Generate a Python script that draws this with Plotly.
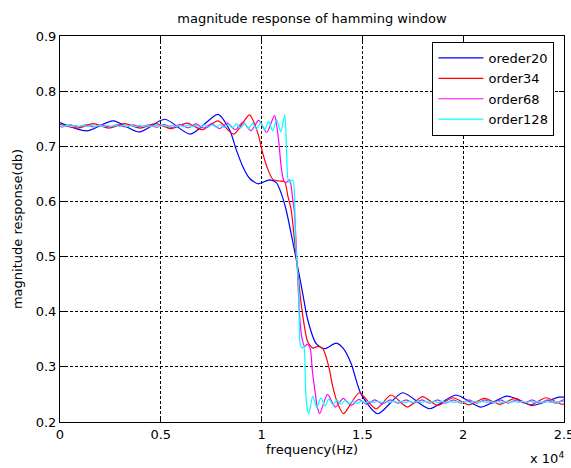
import plotly.graph_objects as go

# ---------------- data (frequency in Hz, magnitude) ----------------
series_names = ["oreder20", "order34", "order68", "order128"]
series_colors = ["#0000FF", "#FF0000", "#FF00FF", "#00FFFF"]

x_tickvals = [0, 5000, 10000, 15000, 20000, 25000]
x_ticktext = ["0", "0.5", "1", "1.5", "2", "2.5"]
y_tickvals = [0.2, 0.3, 0.4, 0.5, 0.6, 0.7, 0.8, 0.9]

blue_x = [0, 1320, 2640, 3930, 5200, 6470, 7840, 8420, 8750, 9070, 9400, 9820,
          10400, 10730, 10970, 11220, 11530, 11760, 12040, 12290, 12710, 13120,
          13700, 14060, 14440, 14930, 15760, 16990, 18320, 19640, 20870, 22190,
          23430, 24750, 25000]
blue_y = [0.743, 0.728, 0.746, 0.726, 0.749, 0.722, 0.758, 0.729, 0.693, 0.663,
          0.642, 0.632, 0.639, 0.634, 0.615, 0.584, 0.530, 0.487, 0.433, 0.385,
          0.342, 0.333, 0.343, 0.333, 0.306, 0.251, 0.215, 0.253, 0.224, 0.249,
          0.227, 0.247, 0.230, 0.245, 0.245]

red_x = [0, 870, 1650, 2420, 3200, 3970, 4750, 5520, 6300, 7070, 7840, 8620,
         9400, 9820, 10060, 10260, 10560, 10890, 11140, 11300, 11470, 11630,
         11760, 11830, 11960, 12130, 12290, 12540, 12790, 13030, 13200, 13370,
         13530, 13780, 14060, 14440, 14850, 15680, 16420, 17240, 17980, 18730,
         19500, 20280, 21050, 21820, 22580, 23350, 24100, 24900, 25000]
red_y = [0.740, 0.733, 0.741, 0.733, 0.741, 0.733, 0.741, 0.732, 0.742, 0.730,
         0.746, 0.722, 0.757, 0.723, 0.687, 0.663, 0.640, 0.637, 0.636, 0.610,
         0.584, 0.530, 0.487, 0.460, 0.415, 0.372, 0.345, 0.334, 0.337, 0.333,
         0.318, 0.294, 0.264, 0.233, 0.215, 0.234, 0.253, 0.224, 0.249, 0.227,
         0.246, 0.230, 0.244, 0.231, 0.243, 0.232, 0.243, 0.231, 0.244, 0.232,
         0.233]

magenta_x = [0, 110, 500, 890, 1280, 1670, 2060, 2450, 2840, 3230, 3620, 4010,
             4400, 4790, 5180, 5570, 5960, 6350, 6740, 7130, 7520, 7910, 8300,
             8690, 9080, 9470, 9860, 10250, 10640,
             10760, 10860, 10970, 11090, 11200, 11390, 11550, 11630, 11760,
             11890, 11990, 12130, 12260, 12410, 12520, 12640, 12760, 12880,
             13270, 13660, 14050, 14440, 14830, 15220, 15610, 16000, 16390,
             16780, 17170, 17560, 17950, 18340, 18730, 19120, 19510, 19900,
             20290, 20680, 21070, 21460, 21850, 22240, 22630, 23020, 23410,
             23800, 24190, 24580, 24970, 25000]
magenta_y = [0.736, 0.735, 0.739, 0.735, 0.739, 0.735, 0.739, 0.735, 0.739,
             0.735, 0.739, 0.735, 0.739, 0.7345, 0.7395, 0.734, 0.740, 0.7335,
             0.7405, 0.733, 0.741, 0.732, 0.742, 0.730, 0.744, 0.728, 0.747,
             0.725, 0.756,
             0.735, 0.705, 0.663, 0.639, 0.634, 0.639, 0.602, 0.580, 0.487,
             0.390, 0.355, 0.337, 0.341, 0.333, 0.292, 0.258, 0.228, 0.215,
             0.250, 0.227, 0.243, 0.230, 0.241, 0.232, 0.240, 0.233, 0.240,
             0.234, 0.240, 0.234, 0.240, 0.234, 0.240, 0.234, 0.240, 0.234,
             0.240, 0.234, 0.240, 0.234, 0.240, 0.234, 0.240, 0.234, 0.240,
             0.234, 0.240, 0.234, 0.240, 0.240]

cyan_x = [0, 150, 350, 550, 750, 950, 1150, 1350, 1550, 1750, 1950, 2150, 2350,
          2550, 2750, 2950, 3150, 3350, 3550, 3750, 3950, 4150, 4350, 4550,
          4750, 4950, 5150, 5350, 5550, 5750, 5950, 6150, 6350, 6550, 6750,
          6950, 7150, 7350, 7550, 7750, 7950, 8150, 8350, 8550, 8750, 8950,
          9150, 9350, 9550, 9750, 9950, 10150, 10350, 10550, 10750, 10950,
          11150,
          11230, 11300, 11380, 11460, 11560, 11680, 11760, 11840, 11900, 11960,
          12040, 12100, 12180, 12250, 12340,
          12540, 12740, 12940, 13140, 13340, 13540, 13740, 13940, 14140, 14340,
          14540, 14740, 14940, 15140, 15340, 15540, 15740, 15940, 16140, 16340,
          16540, 16740, 16940, 17140, 17340, 17540, 17740, 17940, 18140, 18340,
          18540, 18740, 18940, 19140, 19340, 19540, 19740, 19940, 20140, 20340,
          20540, 20740, 20940, 21140, 21340, 21540, 21740, 21940, 22140, 22340,
          22540, 22740, 22940, 23140, 23340, 23540, 23740, 23940, 24140, 24340,
          24540, 24740, 24940, 25000]
cyan_y = [0.737, 0.736, 0.738, 0.736, 0.738, 0.736, 0.738, 0.736, 0.738, 0.736,
          0.738, 0.736, 0.738, 0.736, 0.738, 0.736, 0.738, 0.736, 0.738, 0.736,
          0.738, 0.736, 0.738, 0.736, 0.738, 0.736, 0.738, 0.736, 0.738, 0.736,
          0.738,
          0.7355, 0.7385, 0.7355, 0.7385, 0.735, 0.739, 0.735, 0.739, 0.7345,
          0.7395, 0.734, 0.740, 0.7335, 0.7405, 0.733, 0.741, 0.732, 0.742,
          0.731, 0.743, 0.730, 0.745, 0.728, 0.748, 0.726, 0.757,
          0.700, 0.642, 0.634, 0.637, 0.638, 0.530, 0.487, 0.440, 0.345, 0.336,
          0.334, 0.338, 0.262, 0.228, 0.215,
          0.247, 0.226, 0.244, 0.229, 0.242, 0.231, 0.240, 0.232, 0.239, 0.233,
          0.2385, 0.2335, 0.238, 0.234, 0.2375, 0.2355, 0.2375, 0.2355, 0.2375,
          0.2355, 0.2375, 0.2355, 0.2375, 0.2355, 0.2375, 0.2355, 0.2375,
          0.2355, 0.2375, 0.2355, 0.2375, 0.2355, 0.2375, 0.2355, 0.2375,
          0.2355, 0.2375, 0.2355, 0.2375, 0.2355, 0.2375, 0.2355, 0.2375,
          0.2355, 0.2375, 0.2355, 0.2375, 0.2355, 0.2375, 0.2355, 0.2375,
          0.2355, 0.2375, 0.2355, 0.2375, 0.2355, 0.2375, 0.2355, 0.2375,
          0.2355, 0.2375, 0.2355, 0.2375, 0.237]

series_x = [blue_x, red_x, magenta_x, cyan_x]
series_y = [blue_y, red_y, magenta_y, cyan_y]
for xs, ys in zip(series_x, series_y):
    assert len(xs) == len(ys), (len(xs), len(ys))

FONT = "DejaVu Sans"

fig = go.Figure()
for name, color, xs, ys in zip(series_names, series_colors, series_x, series_y):
    fig.add_trace(go.Scatter(
        x=xs, y=ys, mode="lines", name=name, legendgroup=name,
        line=dict(color=color, width=1.2, shape="spline", smoothing=0.7),
    ))

axis_common = dict(
    showline=True, linecolor="black", linewidth=1, mirror="ticks",
    ticks="inside", ticklen=5, tickcolor="black", tickwidth=1,
    showgrid=True, gridcolor="black", gridwidth=1, griddash="3px,2px",
    zeroline=False, automargin=False, ticklabeloverflow="allow",
    tickfont=dict(family=FONT, size=13, color="black"),
)

fig.update_layout(
    width=571, height=468,
    margin=dict(l=60, r=7, t=36, b=46),
    paper_bgcolor="white", plot_bgcolor="white",
    font=dict(family=FONT, size=13, color="black"),
    title=dict(text="magnitude response of hamming window", x=0.5, xanchor="center",
               xref="paper", y=1 - 18 / 468, yref="container", yanchor="middle",
               font=dict(family=FONT, size=13, color="black")),
    xaxis=dict(range=[0, 25000], tickvals=x_tickvals, ticktext=x_ticktext,
               title=dict(text="frequency(Hz)", standoff=2,
                          font=dict(family=FONT, size=13)),
               **axis_common),
    yaxis=dict(range=[0.2, 0.9], tickvals=y_tickvals, tickformat=".1f",
               title=dict(text="magnitude response(db)", standoff=10,
                          font=dict(family=FONT, size=13)),
               **axis_common),
    legend=dict(x=0.981, y=0.9845, xanchor="right", yanchor="top",
                bgcolor="white", bordercolor="black", borderwidth=1,
                font=dict(family=FONT, size=13, color="black"),
                tracegroupgap=0.5, itemwidth=45),
    showlegend=True,
    annotations=[dict(text="x 10<sup>4</sup>", xref="paper", yref="paper",
                      x=1.004, y=-0.092, xanchor="right", yanchor="middle",
                      showarrow=False, font=dict(family=FONT, size=13, color="black"))],
)

fig.write_html("out.html",
               config={"displayModeBar": False},
               post_script="document.body.style.margin='0px';")
